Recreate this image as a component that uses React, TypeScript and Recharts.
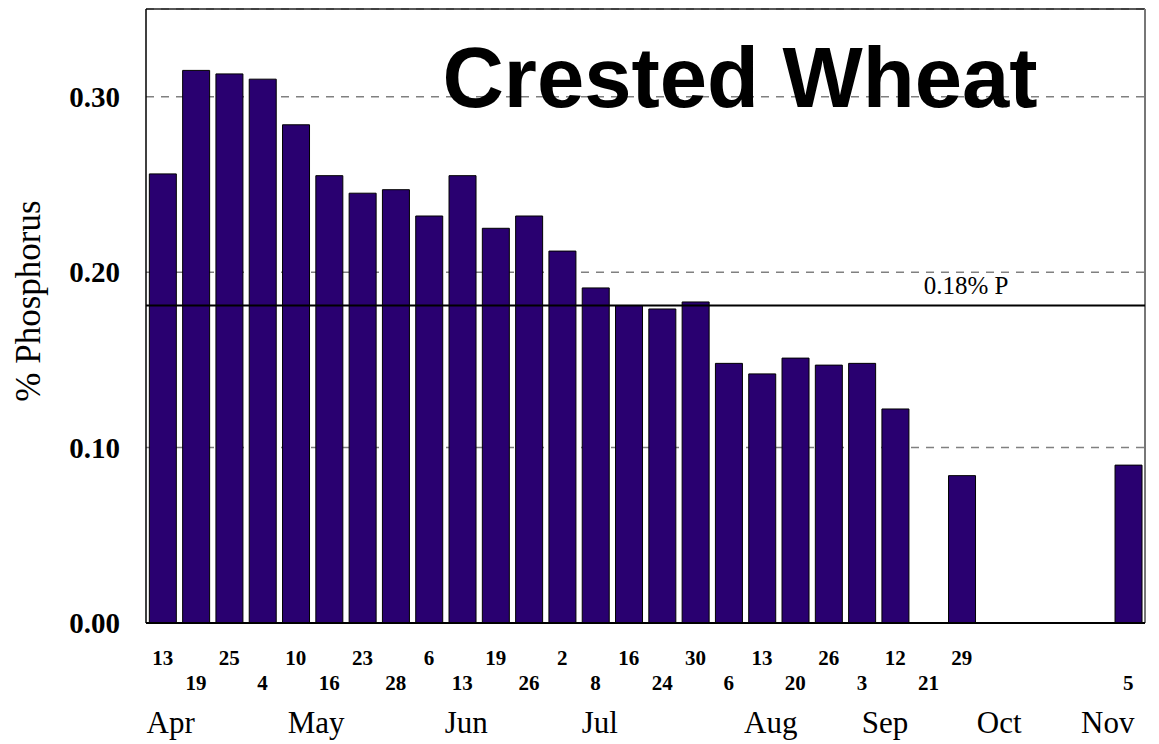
import React from "react";
import {
  BarChart,
  Bar,
  XAxis,
  YAxis,
  CartesianGrid,
  ReferenceLine,
  Customized,
} from "recharts";

// sampling days (30 slots, Oct slots empty)
const days = [
  "13", "19", "25", "4", "10", "16", "23", "28", "6", "13",
  "19", "26", "2", "8", "16", "24", "30", "6", "13", "20",
  "26", "3", "12", "21", "29", "", "", "", "", "5",
];

const phosphorus: (number | null)[] = [
  0.256, 0.315, 0.313, 0.31, 0.284, 0.255, 0.245, 0.247, 0.232, 0.255,
  0.225, 0.232, 0.212, 0.191, 0.181, 0.179, 0.183, 0.148, 0.142, 0.151,
  0.147, 0.148, 0.122, 0, 0.084, null, null, null, null, 0.09,
];

const months = ["Apr", "May", "Jun", "Jul", "Aug", "Sep", "Oct", "Nov"];
// month label positions, in slot units (0 = centre of first slot)
const monthPos = [0.24, 4.61, 9.12, 13.13, 18.26, 21.69, 25.12, 28.38];

const yTicks = [0, 0.1, 0.2, 0.3];
const yMax = 0.35;
const threshold = 0.181;

const data = days.map((day, i) => ({ slot: i, day, p: phosphorus[i] }));

const SERIF = "'Liberation Serif', 'Times New Roman', serif";
const SANS = "'Liberation Sans', Arial, sans-serif";

const DayTick = (props: any) => {
  const { x, y, index } = props;
  const label = days[index];
  if (!label) return null;
  return (
    <text
      x={x}
      y={y + (index % 2 === 0 ? 42 : 67)}
      textAnchor="middle"
      fontFamily={SERIF}
      fontWeight="bold"
      fontSize={21}
      fill="#000"
    >
      {label}
    </text>
  );
};

const MonthTick = (props: any) => {
  const { x, y, index } = props;
  return (
    <text
      x={x}
      y={y + 30}
      textAnchor="middle"
      fontFamily={SERIF}
      fontSize={31}
      fill="#000"
    >
      {months[index]}
    </text>
  );
};

const Title = () => (
  <text
    x={732}
    y={99}
    textAnchor="middle"
    fontFamily={SANS}
    fontWeight="bold"
    fontSize={85}
    fill="#000"
  >
    Crested Wheat
  </text>
);

export default function App() {
  return (
    <BarChart
      width={1151}
      height={736}
      data={data}
      margin={{ top: 1, right: 14, bottom: 0, left: 0 }}
      barCategoryGap="10%"
    >
      <CartesianGrid
        horizontal
        vertical={false}
        stroke="#808080"
        strokeWidth={1.5}
        strokeDasharray="8 7"
      />
      <XAxis
        dataKey="slot"
        interval={0}
        height={80}
        tickSize={0}
        tickMargin={0}
        tickLine={false}
        axisLine={{ stroke: "#000", strokeWidth: 2 }}
        tick={<DayTick />}
      />
      <XAxis
        xAxisId="month"
        dataKey="slot"
        type="number"
        domain={[-0.5, 29.5]}
        allowDataOverflow
        ticks={monthPos}
        interval={0}
        height={41}
        tickSize={0}
        tickMargin={0}
        axisLine={false}
        tickLine={false}
        tick={<MonthTick />}
      />
      <YAxis
        domain={[0, yMax]}
        ticks={yTicks}
        width={138}
        tickSize={0}
        tickMargin={26}
        tickLine={false}
        axisLine={{ stroke: "#000", strokeWidth: 1.5 }}
        tickFormatter={(v: number) => v.toFixed(2)}
        tick={{ fontFamily: SERIF, fontWeight: "bold", fontSize: 29, fill: "#000" }}
        label={{
          content: ({ viewBox }: any) => (
            <text
              x={viewBox.x + 20}
              y={viewBox.y + viewBox.height / 2 - 15}
              transform={`rotate(-90, ${viewBox.x + 20}, ${viewBox.y + viewBox.height / 2 - 15})`}
              textAnchor="middle"
              dominantBaseline="central"
              fontFamily={SERIF}
              fontSize={35}
              fill="#000"
            >
              % Phosphorus
            </text>
          ),
        }}
      />
      <Bar
        dataKey="p"
        fill="#290070"
        stroke="#000"
        strokeWidth={1}
        isAnimationActive={false}
      />
      {/* plot frame: top and right edges */}
      <ReferenceLine y={yMax} stroke="#222" strokeWidth={1.5} />
      <ReferenceLine
        x={days.length - 1}
        position="end"
        stroke="#777"
        strokeWidth={2}
      />
      <ReferenceLine
        y={threshold}
        stroke="#000"
        strokeWidth={2}
        label={{
          content: ({ viewBox }: any) => (
            <text
              x={viewBox.x + viewBox.width * 0.821}
              y={viewBox.y - 11}
              textAnchor="middle"
              fontFamily={SERIF}
              fontSize={25}
              fill="#000"
            >
              0.18% P
            </text>
          ),
        }}
      />
      <Customized component={Title} />
    </BarChart>
  );
}
